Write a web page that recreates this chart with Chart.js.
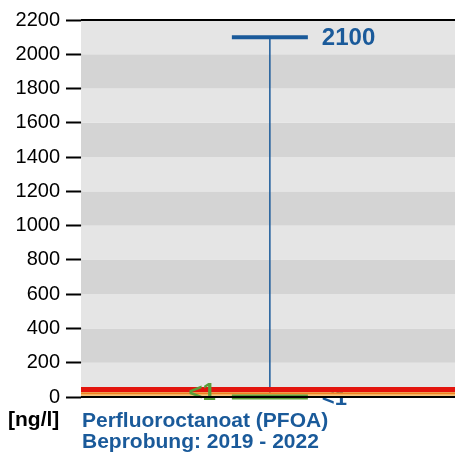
<!DOCTYPE html>
<html>
<head>
<meta charset="utf-8">
<script src="https://cdn.jsdelivr.net/npm/chart.js@4.4.1/dist/chart.umd.min.js"></script>
<style>
  body { margin: 0; background: #fff; }
  #wrap { position: relative; width: 455px; height: 456px; }
  .lbl { position: absolute; font-family: "Liberation Sans", Arial, sans-serif; font-weight: bold; font-size: 21px; line-height: 21px; white-space: nowrap; }
</style>
</head>
<body>
<div id="wrap">
  <canvas id="pfoa" width="455" height="456"></canvas>
  <div class="lbl" style="left:8px;top:408px;color:#000">[ng/l]</div>
  <div class="lbl" style="left:82px;top:409px;color:#1a5a9a">Perfluoroctanoat (PFOA)<br>Beprobung: 2019 - 2022</div>
</div>
<script>
// y axis
const yTicks = [0, 200, 400, 600, 800, 1000, 1200, 1400, 1600, 1800, 2000, 2200];
// measured values
const maxValue = 2100;
const minValue = 0;
const maxLabel = '2100';
const minLabel = '<1';
const medianLabel = '<1';
// reference lines (ng/l)
const refLines = [44, 22, 11];
const refColors = ['#e3140d', '#f0821e', '#f7c27a'];
const refWidths = [5, 2, 2];

const blue = '#1a5a9a';
const green = '#5a9e3a';
const xPos = 0.505;

const refSets = refLines.map((v, i) => ({
  type: 'line',
  data: [{x: 0, y: v}, {x: 1, y: v}],
  borderColor: refColors[i],
  borderWidth: refWidths[i],
  pointRadius: 0,
  order: 5
}));

const bgPlugin = {
  id: 'bg',
  beforeDatasetsDraw(chart) {
    const {ctx, chartArea: a, scales: {x, y}} = chart;
    ctx.save();
    for (let i = 0; i < yTicks.length - 1; i++) {
      const top = y.getPixelForValue(yTicks[i + 1]);
      const bot = y.getPixelForValue(yTicks[i]);
      ctx.fillStyle = i % 2 === 0 ? '#e5e5e5' : '#d4d4d4';
      ctx.fillRect(a.left, top, a.right - a.left, bot - top);
    }
    // median label, sits under the reference lines
    ctx.fillStyle = blue;
    ctx.font = 'bold 22px "Liberation Sans", Arial';
    ctx.textBaseline = 'middle';
    ctx.textAlign = 'left';
    ctx.fillText(medianLabel, x.getPixelForValue(xPos) + 52, y.getPixelForValue(minValue) + 2);
    ctx.restore();
  },
  afterDatasetsDraw(chart) {
    const {ctx, chartArea: a, scales: {x, y}} = chart;
    const cx = x.getPixelForValue(xPos);
    ctx.save();
    ctx.textBaseline = 'middle';
    ctx.fillStyle = blue;
    ctx.textAlign = 'left';
    ctx.font = 'bold 24px "Liberation Sans", Arial';
    ctx.fillText(maxLabel, cx + 52, y.getPixelForValue(maxValue) + 1);
    ctx.fillStyle = green;
    ctx.textAlign = 'right';
    ctx.font = 'bold 24px "Liberation Sans", Arial';
    ctx.fillText(minLabel, cx - 54, y.getPixelForValue(minValue) - 4);
    // frame lines
    ctx.strokeStyle = '#000';
    ctx.lineWidth = 2;
    ctx.beginPath();
    ctx.moveTo(a.left, a.top);
    ctx.lineTo(a.right, a.top);
    ctx.moveTo(a.left, a.bottom);
    ctx.lineTo(a.right, a.bottom);
    ctx.stroke();
    ctx.restore();
  }
};

new Chart(document.getElementById('pfoa'), {
  type: 'scatter',
  data: {
    datasets: [
      {
        type: 'line',
        data: [{x: xPos, y: minValue}, {x: xPos, y: maxValue}],
        borderColor: blue,
        borderWidth: 1.5,
        pointRadius: 0,
        order: 10
      },
      {
        data: [{x: xPos, y: maxValue}],
        pointStyle: 'line',
        pointRadius: 38,
        borderWidth: 4,
        borderColor: blue,
        order: 9
      },
      ...refSets,
      {
        data: [{x: xPos, y: minValue}],
        pointStyle: 'line',
        pointRadius: 38,
        borderWidth: 5,
        borderColor: green,
        order: 1
      }
    ]
  },
  options: {
    responsive: false,
    animation: false,
    events: [],
    clip: false,
    layout: { autoPadding: false, padding: { top: 20, bottom: 59, left: 0, right: 0 } },
    plugins: { legend: { display: false }, tooltip: { enabled: false } },
    scales: {
      x: { type: 'linear', min: 0, max: 1, display: false },
      y: {
        min: 0, max: 2200,
        afterFit(s) { s.width = 81; },
        afterBuildTicks(s) { s.ticks = yTicks.map(v => ({value: v})); },
        border: { color: '#999', width: 1 },
        grid: { drawOnChartArea: false, tickLength: 15, tickColor: '#000', tickWidth: 2 },
        ticks: {
          padding: 6,
          color: '#000',
          font: { family: '"Liberation Sans", Arial', size: 20 },
          callback: v => String(v)
        }
      }
    }
  },
  plugins: [bgPlugin]
});
</script>
</body>
</html>
